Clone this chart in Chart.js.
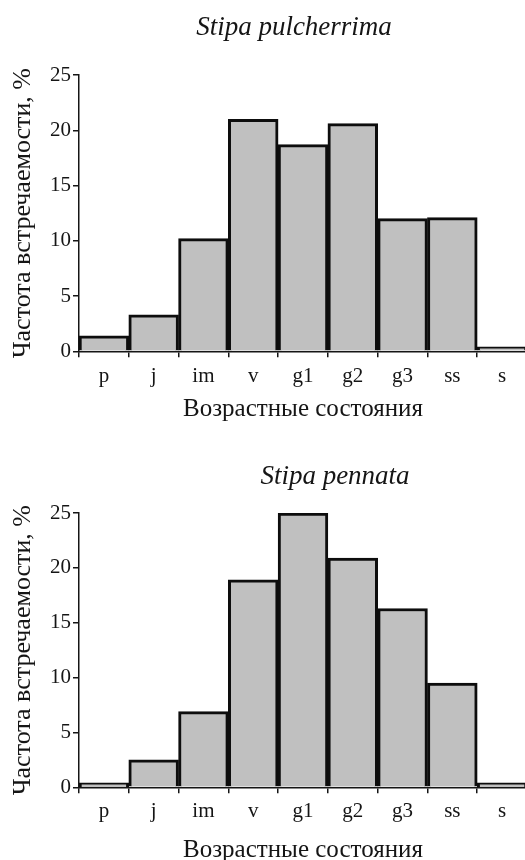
<!DOCTYPE html>
<html>
<head>
<meta charset="utf-8">
<script src="https://cdn.jsdelivr.net/npm/chart.js@4.4.0/dist/chart.umd.min.js"></script>
<style>
  html, body { margin: 0; padding: 0; background: #fff; overflow: hidden; width: 525px; height: 860px; }
  .box { position: absolute; left: 0; width: 540px; }
  #box1 { top: 0; height: 422px; }
  #box2 { top: 420px; height: 443px; }
</style>
</head>
<body>
<div class="box" id="box1"><canvas id="chartPulcherrima"></canvas></div>
<div class="box" id="box2"><canvas id="chartPennata"></canvas></div>

<script>
const ageStates = ['p', 'j', 'im', 'v', 'g1', 'g2', 'g3', 'ss', 's'];
const pulcherrimaFreq = [1.4, 3.3, 10.2, 21.0, 18.7, 20.6, 12.0, 12.1, 0.4];
const pennataFreq = [0.4, 2.5, 6.9, 18.9, 25.0, 20.9, 16.3, 9.5, 0.4];
const yTicks = [0, 5, 10, 15, 20, 25];

const yTitle = 'Частота встречаемости, %';
const xTitle = 'Возрастные состояния';

const ink = '#151515';
const serif = '"Liberation Serif", "DejaVu Serif", serif';

// species name drawn in italics above the plot
const speciesTitle = {
  id: 'speciesTitle',
  afterDraw(chart, args, opts) {
    const ctx = chart.ctx;
    ctx.save();
    ctx.font = 'italic 27px ' + serif;
    ctx.fillStyle = ink;
    ctx.textAlign = 'center';
    ctx.textBaseline = 'alphabetic';
    ctx.fillText(opts.text, opts.x, opts.y);
    ctx.restore();
  }
};

function makeChart(canvasId, values, name, titleX, titleY, padTop, tickPad, xTitlePad) {
  return new Chart(document.getElementById(canvasId), {
    type: 'bar',
    data: {
      labels: ageStates,
      datasets: [{
        data: values,
        backgroundColor: '#c0c0c0',
        borderColor: '#0d0d0d',
        borderWidth: 3,
        barPercentage: 1,
        categoryPercentage: 1
      }]
    },
    plugins: [speciesTitle],
    options: {
      responsive: true,
      maintainAspectRatio: false,
      animation: false,
      layout: { padding: { top: padTop, left: 4, right: 13, bottom: 0 } },
      plugins: {
        legend: { display: false },
        tooltip: { enabled: false },
        speciesTitle: { text: name, x: titleX, y: titleY }
      },
      scales: {
        x: {
          grid: { drawOnChartArea: false, tickLength: 6, color: ink, lineWidth: 1.5 },
          border: { color: ink, width: 1.5 },
          ticks: { color: ink, padding: tickPad, font: { family: serif, size: 21 }, maxRotation: 0 },
          title: {
            display: true, text: xTitle, color: ink,
            font: { family: serif, size: 25, lineHeight: 1 },
            padding: { top: xTitlePad, bottom: 0 }
          }
        },
        y: {
          min: yTicks[0],
          max: yTicks[yTicks.length - 1],
          grid: { drawOnChartArea: false, tickLength: 6, color: ink, lineWidth: 1.5 },
          border: { color: ink, width: 1.5 },
          ticks: { color: ink, padding: 2, stepSize: yTicks[1] - yTicks[0], font: { family: serif, size: 21 } },
          title: {
            display: true, text: yTitle, color: ink,
            font: { family: serif, size: 26 },
            padding: { top: 3.4, bottom: 9.4 }
          }
        }
      }
    }
  });
}

makeChart('chartPulcherrima', pulcherrimaFreq, 'Stipa pulcherrima', 294, 35, 75, 7, 0.5);
makeChart('chartPennata', pennataFreq, 'Stipa pennata', 335, 64, 93, 6, 7.5);
</script>
</body>
</html>
